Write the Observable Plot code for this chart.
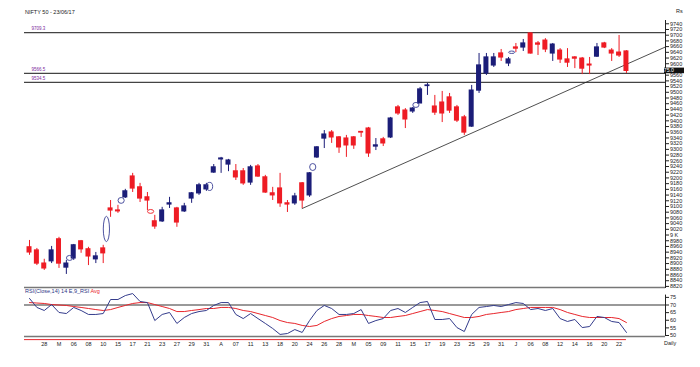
<!DOCTYPE html>
<html>
<head>
<meta charset="utf-8">
<script src="https://cdn.jsdelivr.net/npm/d3@7"></script>
<script src="https://cdn.jsdelivr.net/npm/@observablehq/plot@0.6"></script>
<style>
  html,body{margin:0;padding:0;background:#fff;}
  #wrap{position:relative;width:700px;height:367px;overflow:hidden;font-family:"Liberation Sans",Arial,sans-serif;}
  #main,#rsi{position:absolute;left:0;}
  #main{top:0;} #rsi{top:287px;}
  .lbl{position:absolute;font-size:5.5px;line-height:6px;white-space:nowrap;color:#222;}
</style>
</head>
<body>
<div id="wrap">
  <div id="main"></div>
  <div id="rsi"></div>
  <div class="lbl" style="left:25px;top:9px;">NIFTY 50 - 23/06/17</div>
  <div class="lbl" style="left:676px;top:8px;">Rs</div>
  <div class="lbl" style="left:25px;top:288px;color:#2d3585;">RSI(Close,14) 14 E,9_RSI <span style="color:#e8262c">Avg</span></div>
  <div class="lbl" style="left:664px;top:340px;">Daily</div>
</div>
<script>
// ---- data ----
const dates = [
 "2017-02-23","2017-02-27","2017-02-28",
 "2017-03-01","2017-03-02","2017-03-03","2017-03-06","2017-03-07","2017-03-08","2017-03-09","2017-03-10","2017-03-14","2017-03-15","2017-03-16","2017-03-17","2017-03-20","2017-03-21","2017-03-22","2017-03-23","2017-03-24","2017-03-27","2017-03-28","2017-03-29","2017-03-30","2017-03-31",
 "2017-04-03","2017-04-05","2017-04-06","2017-04-07","2017-04-10","2017-04-11","2017-04-12","2017-04-13","2017-04-17","2017-04-18","2017-04-19","2017-04-20","2017-04-21","2017-04-24","2017-04-25","2017-04-26","2017-04-27","2017-04-28",
 "2017-05-02","2017-05-03","2017-05-04","2017-05-05","2017-05-08","2017-05-09","2017-05-10","2017-05-11","2017-05-12","2017-05-15","2017-05-16","2017-05-17","2017-05-18","2017-05-19","2017-05-22","2017-05-23","2017-05-24","2017-05-25","2017-05-26","2017-05-29","2017-05-30","2017-05-31",
 "2017-06-01","2017-06-02","2017-06-05","2017-06-06","2017-06-07","2017-06-08","2017-06-09","2017-06-12","2017-06-13","2017-06-14","2017-06-15","2017-06-16","2017-06-19","2017-06-20","2017-06-21","2017-06-22","2017-06-23"
];
const open  = [8957,8946,8900,8908,8985,8886,8918,8978,8950,8915,8953,9093,9086,9132,9205,9167,9132,9048,9048,9107,9093,9083,9128,9146,9160,9219,9265,9247,9223,9223,9184,9240,9202,9146,9163,9111,9111,9181,9139,9272,9338,9359,9342,9338,9342,9361,9373,9310,9335,9342,9447,9436,9433,9461,9522,9450,9464,9482,9447,9412,9380,9506,9566,9594,9636,9601,9657,9657,9706,9671,9681,9636,9646,9615,9622,9618,9597,9625,9671,9646,9639,9643];
const high  = [8981,8953,8915,8960,8992,8911,8967,8981,8957,8939,8964,9121,9104,9160,9216,9181,9149,9069,9097,9132,9097,9111,9149,9181,9181,9247,9272,9265,9247,9233,9244,9247,9209,9167,9216,9121,9146,9184,9219,9310,9366,9366,9345,9349,9345,9363,9377,9338,9342,9412,9454,9443,9447,9517,9531,9489,9503,9496,9454,9419,9524,9636,9636,9636,9650,9622,9671,9685,9708,9678,9688,9671,9653,9653,9625,9622,9622,9671,9675,9653,9699,9646];
const low   = [8929,8893,8876,8900,8883,8862,8911,8936,8893,8900,8900,9062,9076,9128,9149,9114,9086,9020,9044,9093,9027,9079,9111,9139,9153,9216,9216,9222,9191,9174,9174,9202,9146,9121,9097,9079,9104,9093,9132,9268,9303,9321,9286,9272,9300,9342,9272,9296,9310,9338,9419,9373,9426,9461,9489,9419,9394,9426,9394,9349,9377,9496,9559,9587,9608,9590,9639,9643,9634,9629,9639,9608,9601,9587,9583,9562,9562,9622,9653,9608,9622,9566];
const close = [8939,8900,8883,8946,8900,8900,8964,8950,8925,8925,8936,9086,9083,9153,9163,9128,9121,9030,9086,9111,9044,9100,9146,9174,9174,9237,9268,9261,9202,9181,9237,9205,9149,9139,9111,9107,9135,9121,9216,9307,9352,9342,9307,9314,9314,9359,9286,9314,9321,9408,9426,9405,9443,9510,9524,9429,9426,9436,9401,9359,9506,9594,9622,9622,9622,9615,9653,9671,9636,9667,9650,9667,9615,9604,9618,9583,9594,9657,9657,9636,9629,9574.95];

const rsi = [74.3,68.4,66.4,70.3,65.1,64.4,68.4,66.4,63.8,63.8,
             64.4,73.6,73.6,76.2,77.5,72.3,71.6,59.8,63.8,65.1,
             57.9,61.8,64.4,65.7,66.4,69.7,71.6,71.6,63.8,61.1,
             64.4,61.1,57.9,54.6,50.7,51.3,53.9,52.0,59.8,66.4,
             69.7,67.7,63.8,63.8,64.4,67.0,57.9,59.8,61.1,66.4,
             67.7,65.1,68.4,71.6,72.3,60.5,60.5,61.1,55.2,52.6,
             63.8,68.4,69.0,69.7,69.0,70.3,71.6,71.0,67.0,67.7,
             66.4,67.7,61.1,59.2,60.5,55.2,55.9,62.5,61.8,59.2,
             58.5,52.0];
const rsiAvg = [71.6,71.3,71.0,70.3,70.0,69.7,69.0,68.4,67.7,67.0,
                66.4,67.0,68.4,69.7,71.0,71.6,71.6,70.3,69.0,67.7,
                65.7,65.7,66.4,67.0,67.7,67.7,68.4,68.4,67.7,66.4,
                65.7,64.4,63.1,61.8,59.8,58.5,57.9,56.6,55.9,56.6,
                59.2,61.1,62.5,63.1,63.8,63.8,63.1,62.5,61.8,61.8,
                62.5,63.1,64.4,65.7,67.0,66.4,65.7,64.4,63.1,61.8,
                61.8,62.5,63.8,64.4,65.1,65.7,67.0,67.7,68.4,68.4,
                68.4,68.4,67.0,65.1,63.8,62.5,61.8,61.8,61.8,61.8,
                61.1,58.5];

const xTickIndex = d3.range(2, 81, 2);
const xTickLabels = ["28","M","06","08","10","15","17","21","23","27","29","31","A","07","11","13","18","20","24","26","28","M","05","09","11","15","17","19","23","25","29","31","J","06","08","12","14","16","20","22"];
const priceTicks = d3.range(8820, 9741, 20);
const rsiTicks = [50,55,60,65,70,75];

const levels = [9709.3, 9566.5, 9534.5];
const levelLabels = ["9709.3", "9566.5", "9534.5"];
const trendAnchors = [{i: 37, v: 9093}, {i: 81, v: 9598}];
// gap markers: between candle i and i+1
const gapAfter = [5, 10, 12, 16, 24, 38, 52, 65];
const gapLow   = [8911, 8977, 9111, 9076, 9156, 9226, 9447, 9636];
const gapHigh  = [8925, 9062, 9128, 9086, 9181, 9247, 9461, 9641];
const gapUp    = [true, true, true, false, true, true, true, true];
const rsiLevels = [70];

// ---- build ----
const RED = "#ee1c24", BLUE = "#1b1d78", RSIBLUE = "#343c8c", RSIRED = "#e8262c";
const xDomain = [-0.68, 86.3];
const yDomain = [8816.2, 9751.5];
const rsiDomain = [46.72, 81.48];
const font = "Liberation Sans, Arial, sans-serif";

const candles = close.map((c, i) => ({i, date: dates[i], o: open[i], h: high[i], l: low[i], c}));
const ups = candles.filter(d => d.c >= d.o), downs = candles.filter(d => d.c < d.o);
const gaps = gapAfter.map((g, k) => ({x: g + 0.5, lo: gapLow[k], hi: gapHigh[k], up: gapUp[k]}));
const slope = (trendAnchors[1].v - trendAnchors[0].v) / (trendAnchors[1].i - trendAnchors[0].i);
const trend = [trendAnchors[0], {i: xDomain[1], v: trendAnchors[0].v + slope * (xDomain[1] - trendAnchors[0].i)}];

const lastClose = close[close.length - 1];
// the tick label hidden under the last-price box is not drawn
const fmtPrice = v => Math.abs(v - lastClose) < 10 ? "" : (v === 9000 ? "9 K" : String(v));

const mainPlot = Plot.plot({
  width: 700, height: 290,
  marginTop: 20, marginBottom: 3, marginLeft: 24, marginRight: 35,
  style: {fontSize: "5.5px", fontFamily: font, color: "#222", background: "transparent", overflow: "visible"},
  x: {type: "linear", domain: xDomain, axis: null},
  y: {domain: yDomain, axis: "right", ticks: priceTicks, tickFormat: fmtPrice, tickSize: 3, tickPadding: 1.5, label: null, line: true},
  marks: [
    Plot.ruleY(levels, {stroke: "#444", strokeWidth: 1.3}),
    Plot.ruleY([yDomain[0]], {stroke: "#777", strokeWidth: 1.5}),
    Plot.text(levels, {x: xDomain[0], y: d => d, text: (d, i) => levelLabels[i], dx: 7, dy: -3.5, textAnchor: "start", fill: "#7b2a9c", fontSize: 4.5}),
    Plot.line(trend, {x: "i", y: "v", stroke: "#222", strokeWidth: 0.8}),
    Plot.ruleX(ups, {x: "i", y1: "l", y2: "h", stroke: BLUE, strokeWidth: 1}),
    Plot.ruleX(downs, {x: "i", y1: "l", y2: "h", stroke: RED, strokeWidth: 1}),
    Plot.rect(ups, {x1: d => d.i - 0.34, x2: d => d.i + 0.34, y1: "o", y2: "c", fill: BLUE, insetTop: -0.6, insetBottom: -0.6}),
    Plot.rect(downs, {x1: d => d.i - 0.34, x2: d => d.i + 0.34, y1: "o", y2: "c", fill: RED, insetTop: -0.6, insetBottom: -0.6}),
    Plot.rect(gaps, {x1: d => d.x - 0.42, x2: d => d.x + 0.42, y1: "lo", y2: "hi", rx: 30, ry: 60, fill: "none", stroke: d => d.up ? "#3a3f95" : RED, strokeWidth: 0.9, insetTop: -0.5, insetBottom: -0.5})
  ],
  color: {type: "identity"}
});
document.getElementById("main").appendChild(mainPlot);

// last price box
{
  const ys = mainPlot.scale("y").apply(lastClose);
  const xs = mainPlot.scale("x").apply(xDomain[1]);
  const svg = d3.select(mainPlot);
  svg.append("rect").attr("x", xs - 1).attr("y", ys - 2.8).attr("width", 20).attr("height", 5.6).attr("fill", "#111");
  svg.append("text").attr("x", xs + 1).attr("y", ys + 1.9).attr("fill", "#fff")
     .attr("font-size", 5.2).attr("font-family", font).text(lastClose.toFixed(1));
}

const rsiData = rsi.map((r, i) => ({i, r, a: rsiAvg[i]}));
const rsiPlot = Plot.plot({
  width: 700, height: 60,
  marginTop: 0, marginBottom: 7, marginLeft: 24, marginRight: 35,
  style: {fontSize: "5.5px", fontFamily: font, color: "#222", background: "transparent", overflow: "visible"},
  x: {type: "linear", domain: xDomain, axis: "bottom", ticks: xTickIndex, tickFormat: (d) => xTickLabels[xTickIndex.indexOf(d)], tickSize: 0, tickPadding: 1.5, label: null},
  y: {domain: rsiDomain, axis: "right", ticks: rsiTicks, tickSize: 3, tickPadding: 1.5, label: null},
  marks: [
    Plot.ruleY(rsiLevels, {stroke: "#777", strokeWidth: 1.4}),
    Plot.ruleY([49.3], {stroke: "#777", strokeWidth: 1.4}),
    Plot.ruleY([47.3], {x1: xDomain[0], x2: close.length - 1, stroke: RSIRED, strokeWidth: 1}),
    Plot.ruleX([xDomain[1]], {y1: 49.3, y2: 76.5, stroke: "#222"}),
    Plot.line(rsiData, {x: "i", y: "a", stroke: RSIRED, strokeWidth: 1}),
    Plot.line(rsiData, {x: "i", y: "r", stroke: RSIBLUE, strokeWidth: 1})
  ]
});
document.getElementById("rsi").appendChild(rsiPlot);
</script>
</body>
</html>
